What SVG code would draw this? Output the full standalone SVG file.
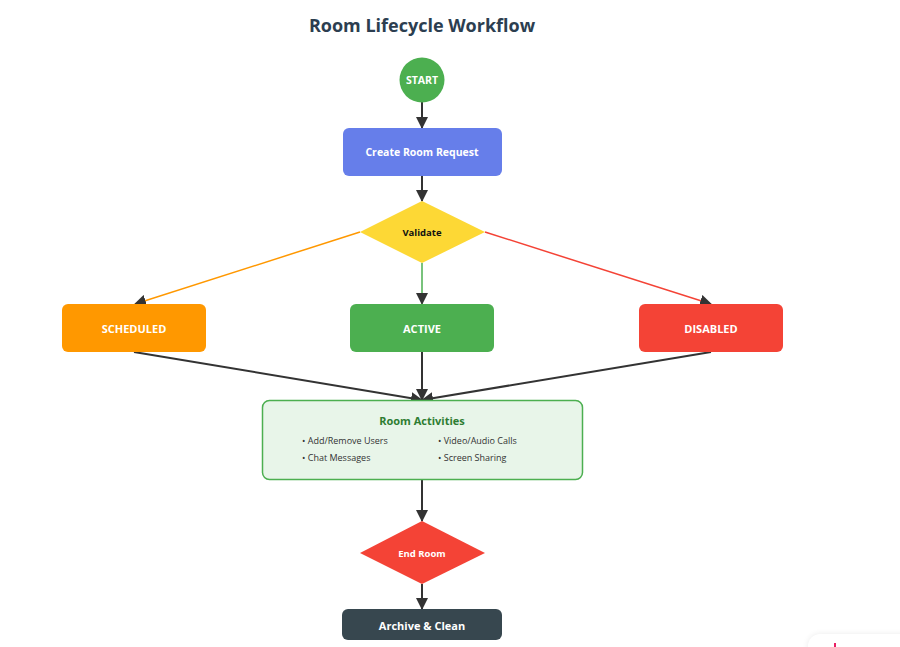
<svg xmlns="http://www.w3.org/2000/svg" width="900" height="647" viewBox="0 0 900 647">
<defs>
<marker id="ah" viewBox="0 0 12 12" refX="11" refY="6" markerWidth="12" markerHeight="12" markerUnits="userSpaceOnUse" orient="auto">
<path d="M0,0 L12,6 L0,12 Z" fill="#333"/>
</marker>
<filter id="sh" x="-20%" y="-20%" width="140%" height="140%">
<feGaussianBlur stdDeviation="3"/>
</filter>
</defs>
<style>
text{font-family:"Open Sans","Liberation Sans",sans-serif;text-anchor:middle;dominant-baseline:central}
.lbl{fill:#fff;font-weight:bold;font-size:11px}
.dk{stroke:#333;stroke-width:2;fill:none}
.item{fill:#333;font-size:9px;text-anchor:start}
</style>
<rect width="900" height="647" fill="#fff"/>
<text x="422" y="25" style="font-size:18px;font-weight:bold;fill:#2c3e50">Room Lifecycle Workflow</text>

<g id="connectors">
<line class="dk" x1="422" y1="102" x2="422" y2="128" marker-end="url(#ah)"/>
<line class="dk" x1="422" y1="176" x2="422" y2="201" marker-end="url(#ah)"/>
<line x1="360" y1="232" x2="135" y2="304" stroke="#ff9800" stroke-width="1.5" marker-end="url(#ah)"/>
<line x1="422" y1="263" x2="422" y2="304" stroke="#4caf50" stroke-width="1.5" marker-end="url(#ah)"/>
<line x1="485" y1="232" x2="711" y2="304" stroke="#f44336" stroke-width="1.5" marker-end="url(#ah)"/>
<line class="dk" x1="134" y1="352" x2="422" y2="400" marker-end="url(#ah)" stroke-width="1.5"/>
<line class="dk" x1="422" y1="352" x2="422" y2="400" marker-end="url(#ah)"/>
<line class="dk" x1="711" y1="352" x2="422" y2="400" marker-end="url(#ah)" stroke-width="1.5"/>
<line class="dk" x1="422" y1="480" x2="422" y2="521" marker-end="url(#ah)"/>
<line class="dk" x1="422" y1="584" x2="422" y2="609" marker-end="url(#ah)"/>
</g>

<g id="start">
<circle cx="422" cy="80" r="22.5" fill="#4caf50"/>
<text class="lbl" x="422" y="80" style="font-size:10.5px">START</text>
</g>
<g id="create">
<rect x="343" y="128" width="159" height="48" rx="6" fill="#667eea"/>
<text class="lbl" x="422" y="152" style="font-size:10.5px">Create Room Request</text>
</g>
<g id="validate">
<polygon points="422,201 485,232 422,263 360,232" fill="#fdd835"/>
<text x="422" y="232" style="font-size:9.5px;font-weight:bold;fill:#111">Validate</text>
</g>
<g id="scheduled">
<rect x="62" y="304" width="144" height="48" rx="6" fill="#ff9800"/>
<text class="lbl" x="134" y="328">SCHEDULED</text>
</g>
<g id="active">
<rect x="350" y="304" width="144" height="48" rx="6" fill="#4caf50"/>
<text class="lbl" x="422" y="328">ACTIVE</text>
</g>
<g id="disabled">
<rect x="639" y="304" width="144" height="48" rx="6" fill="#f44336"/>
<text class="lbl" x="711" y="328">DISABLED</text>
</g>
<g id="activities">
<rect x="262.5" y="400.5" width="320" height="79" rx="7" fill="#e8f5e9" stroke="#4caf50" stroke-width="1.5"/>
<text x="422" y="420" style="font-size:11px;font-weight:bold;fill:#2e7d32">Room Activities</text>
<text class="item" x="302" y="440">• Add/Remove Users</text>
<text class="item" x="302" y="457">• Chat Messages</text>
<text class="item" x="438" y="440">• Video/Audio Calls</text>
<text class="item" x="438" y="457">• Screen Sharing</text>
</g>
<g id="endroom">
<polygon points="422,521 485,553 422,584 360,553" fill="#f44336"/>
<text class="lbl" x="422" y="553" style="font-size:9.5px">End Room</text>
</g>
<g id="archive">
<rect x="342" y="609" width="160" height="31" rx="6" fill="#37474f"/>
<text class="lbl" x="422" y="625">Archive &amp; Clean</text>
</g>
<g id="corner">
<rect x="808" y="634" width="110" height="40" rx="12" fill="#000" opacity="0.08" filter="url(#sh)"/>
<rect x="808" y="634" width="110" height="40" rx="12" fill="#fff"/>
<rect x="834" y="643" width="2" height="4" fill="#e91e63"/>
</g>
</svg>
